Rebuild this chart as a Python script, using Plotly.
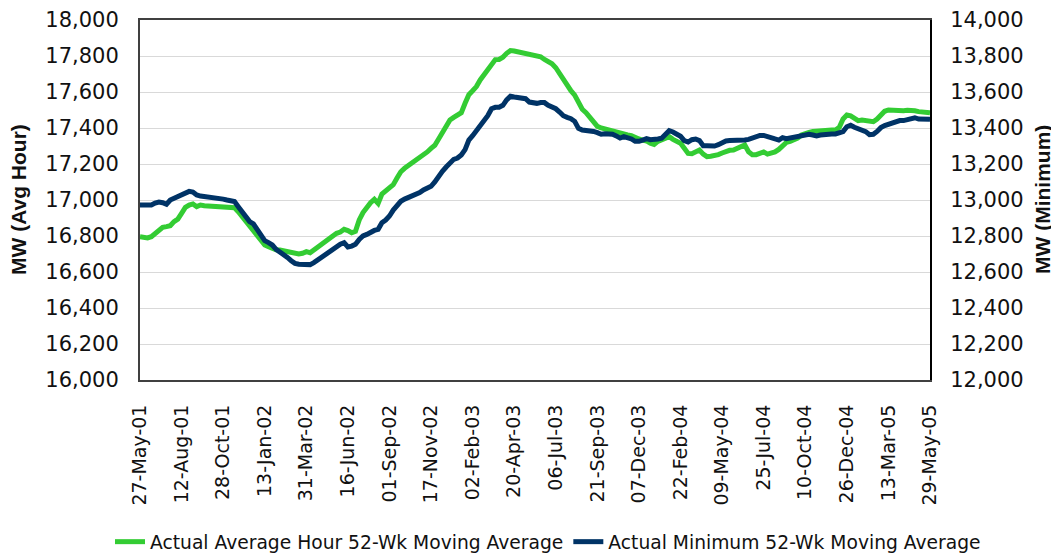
import pandas as pd
import plotly.graph_objects as go

# weekly dates, 27-May-01 .. 29-May-05
weeks = pd.date_range("2001-05-27", periods=210, freq="7D")

avg_hour = [
    16796, 16792, 16789, 16796, 16815, 16830, 16848, 16852, 16857, 16880,
    16894, 16926, 16959, 16972, 16978, 16963, 16972, 16968, 16967, 16967,
    16963, 16961, 16961, 16963, 16963, 16957, 16935, 16907, 16889, 16861,
    16830, 16796, 16768, 16750, 16741, 16730, 16724, 16722, 16717, 16709,
    16704, 16700, 16700, 16704, 16713, 16707, 16722, 16741, 16755, 16768,
    16783, 16796, 16815,
    16822, 16837, 16830, 16818, 16826, 16889, 16930, 16963, 16985, 17004,
    16981, 17033, 17052, 17068, 17085, 17122, 17157, 17176, 17191, 17200,
    17215, 17231, 17248, 17267, 17287, 17304, 17339, 17370, 17402, 17444,
    17459, 17470, 17485, 17537, 17585, 17607, 17630, 17667, 17698, 17726,
    17756, 17780, 17781, 17793, 17815, 17830, 17828, 17824, 17820, 17817,
    17811, 17804, 17800,
    17796, 17781, 17769, 17757, 17735, 17704, 17663, 17635, 17607, 17583,
    17537, 17504, 17485, 17459, 17430, 17409, 17400, 17394, 17389, 17383,
    17376, 17368, 17361, 17361, 17357, 17346, 17339, 17333, 17328, 17315,
    17309, 17326, 17337, 17343, 17352, 17337, 17326, 17315, 17287, 17259,
    17257, 17270, 17278, 17255, 17241, 17243, 17246, 17252, 17261, 17272,
    17276, 17278,
    17289, 17300, 17306, 17268, 17252, 17252, 17259, 17267, 17255, 17259,
    17267, 17281, 17302, 17320, 17326, 17335, 17344, 17361, 17370, 17376,
    17380, 17383, 17383, 17383, 17387, 17389, 17389, 17404, 17450, 17472,
    17467, 17450, 17441, 17444, 17441, 17435, 17435, 17450, 17472, 17493,
    17500, 17498, 17494, 17494, 17496, 17498, 17500, 17496, 17491, 17487,
    17485, 17485,
]

minimum = [
    12972, 12972, 12970, 12972, 12983, 12989, 12985, 12976, 13000, 13009,
    13018, 13031, 13041, 13048, 13044, 13028, 13022, 13020, 13018, 13017,
    13015, 13011, 13005, 13000, 12998, 12991, 12963, 12935, 12907, 12880,
    12867, 12833, 12800, 12774, 12763, 12750, 12726, 12713, 12700, 12681,
    12663, 12648, 12643, 12644, 12644, 12641, 12652, 12667, 12680, 12694,
    12707, 12722, 12741,
    12754, 12763, 12739, 12744, 12754, 12781, 12800, 12809, 12822, 12831,
    12837, 12874, 12889, 12911, 12944, 12972, 12993, 13005, 13013, 13020,
    13030, 13041, 13056, 13070, 13076, 13100, 13135, 13159, 13183, 13207,
    13226, 13233, 13250, 13280, 13333, 13357, 13383, 13417, 13444, 13468,
    13507, 13515, 13515, 13526, 13556, 13576, 13572, 13568, 13570, 13563,
    13544, 13539, 13537,
    13541, 13541, 13526, 13520, 13507, 13489, 13468, 13459, 13452, 13437,
    13398, 13389, 13387, 13387, 13381, 13374, 13365, 13368, 13368, 13365,
    13356, 13344, 13352, 13348, 13339, 13326, 13326, 13333, 13341, 13335,
    13335, 13339, 13343, 13361, 13385, 13378, 13367, 13354, 13330, 13322,
    13335, 13339, 13330, 13302, 13302, 13302, 13300, 13307, 13318, 13328,
    13330, 13330,
    13330, 13331, 13333, 13337, 13346, 13354, 13359, 13359, 13350, 13344,
    13339, 13333, 13346, 13341, 13344, 13348, 13352, 13359, 13363, 13365,
    13361, 13356, 13361, 13365, 13367, 13367, 13367, 13370, 13380, 13407,
    13415, 13404, 13398, 13393, 13380, 13363, 13365, 13381, 13402, 13413,
    13420, 13428, 13439, 13441, 13441, 13446, 13454, 13457, 13450, 13450,
    13450, 13448,
]

tick_dates = weeks[::11]

name_avg = "Actual Average Hour 52-Wk Moving Average"
name_min = "Actual Minimum 52-Wk Moving Average"

TXT = "#111111"
FONT = "DejaVu Sans"

# page body has an 8px margin, so the figure is drawn 8px in from the corner
OFF = 8
W, H = 1059 - OFF, 555 - OFF
L, T = 140 - OFF, 20 - OFF
PW, PH = 790, 360

fig = go.Figure()
fig.add_trace(go.Scatter(x=weeks, y=avg_hour, name=name_avg, mode="lines",
                         line=dict(color="#33CC33", width=5), yaxis="y"))
fig.add_trace(go.Scatter(x=weeks, y=minimum, name=name_min, mode="lines",
                         line=dict(color="#003366", width=5), yaxis="y2"))

fig.update_layout(
    width=W, height=H,
    margin=dict(l=L, r=W - L - PW, t=T, b=H - T - PH, autoexpand=False),
    paper_bgcolor="white", plot_bgcolor="white",
    font=dict(family=FONT, color=TXT),
    showlegend=True,
    legend=dict(orientation="h", xref="paper", yref="paper",
                x=(110 - 140) / PW, xanchor="left", y=(380 - 542) / PH, yanchor="middle",
                font=dict(family=FONT, size=18.7, color=TXT),
                tracegroupgap=0, bgcolor="rgba(0,0,0,0)"),
    xaxis=dict(
        range=[weeks[0], weeks[-1]],
        tickvals=list(tick_dates), tickformat="%d-%b-%y", tickangle=-90,
        tickfont=dict(family=FONT, size=19, color=TXT),
        showgrid=False, showline=True, linecolor="#404040", linewidth=2,
        mirror=True, ticks="", ticklabelstandoff=15, automargin=False,
    ),
    yaxis=dict(
        range=[16000, 18000], dtick=200, tickformat=",",
        tickfont=dict(family=FONT, size=21, color=TXT),
        showgrid=True, gridcolor="#d9d9d9", gridwidth=1,
        showline=True, linecolor="#404040", linewidth=2,
        ticks="", ticklabelstandoff=15, zeroline=False, automargin=False,
    ),
    yaxis2=dict(
        range=[12000, 14000], dtick=200, tickformat=",",
        overlaying="y", side="right",
        tickfont=dict(family=FONT, size=21, color=TXT),
        showgrid=False, showline=True, linecolor="#000000", linewidth=2,
        ticks="", ticklabelstandoff=14, zeroline=False, automargin=False,
    ),
    annotations=[
        dict(text="<b>MW (Avg Hour)</b>", xref="paper", yref="paper",
             x=(18 - 140) / PW, y=0.5, xanchor="center", yanchor="middle",
             textangle=-90, showarrow=False,
             font=dict(family="Liberation Sans", size=21, color=TXT)),
        dict(text="<b>MW (Minimum)</b>", xref="paper", yref="paper",
             x=(1042 - 140) / PW, y=0.5, xanchor="center", yanchor="middle",
             textangle=-90, showarrow=False,
             font=dict(family="Liberation Sans", size=21, color=TXT)),
    ],
)

fig.write_html("out.html")
